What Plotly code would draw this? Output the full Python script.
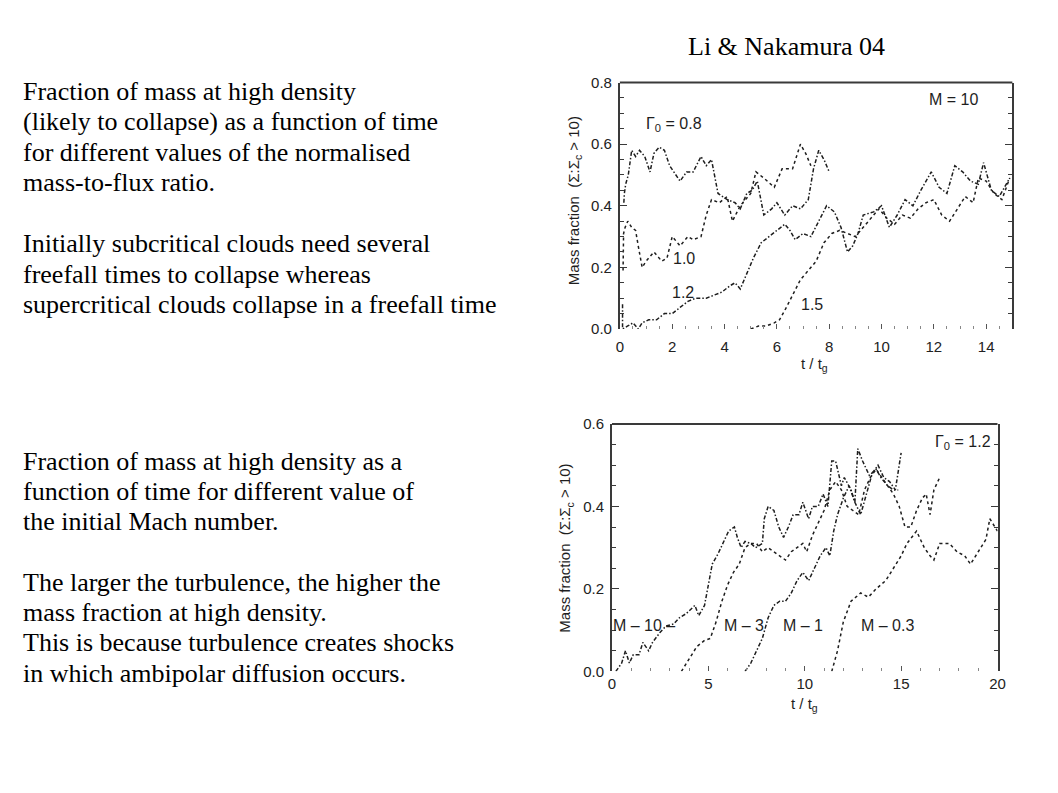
import plotly.graph_objects as go

# page offset of the plot div (browser body margin) and figure size that fits the window
OFF = 8
W, H = 1058 - 2 * OFF, 793 - 2 * OFF

# ---------------- data: top panel (M = 10, different mass-to-flux ratios) ----------------
t_08 = [0.15, 0.17, 0.22, 0.32, 0.45, 0.6, 0.75, 0.95, 1.15, 1.3, 1.5, 1.7, 1.9, 2.05, 2.3, 2.55, 2.8, 3.1, 3.3, 3.5,
        3.75, 4.1, 4.4, 4.6, 4.85, 5.05, 5.25, 5.5, 5.8, 6.0, 6.3, 6.6, 6.9, 7.2, 7.4, 7.6, 7.8, 8.0]
m_08 = [0.41, 0.44, 0.47, 0.50, 0.58, 0.56, 0.58, 0.56, 0.51, 0.57, 0.59, 0.58, 0.53, 0.51, 0.48, 0.51, 0.51, 0.56, 0.53, 0.55,
        0.44, 0.42, 0.41, 0.39, 0.44, 0.45, 0.48, 0.37, 0.39, 0.41, 0.37, 0.40, 0.39, 0.42, 0.52, 0.58, 0.55, 0.51]

t_10 = [0.12, 0.14, 0.2, 0.3, 0.45, 0.6, 0.7, 0.85, 1.0, 1.3, 1.6, 1.8, 2.0, 2.3, 2.6, 2.8, 3.1, 3.3, 3.5, 3.8,
        4.1, 4.3, 4.6, 5.0, 5.2, 5.5, 5.9, 6.2, 6.6, 6.9, 7.1, 7.3]
m_10 = [0.19, 0.31, 0.33, 0.35, 0.33, 0.32, 0.27, 0.20, 0.22, 0.25, 0.22, 0.23, 0.30, 0.27, 0.30, 0.29, 0.30, 0.37, 0.42, 0.41,
        0.43, 0.35, 0.40, 0.44, 0.51, 0.49, 0.46, 0.52, 0.52, 0.60, 0.57, 0.53]

t_12 = [0.1, 0.1, 0.3, 0.5, 0.7, 0.85, 1.1, 1.4, 1.7, 2.0, 2.3, 2.6, 2.9, 3.3, 3.6, 3.9, 4.2, 4.4, 4.6, 4.8,
        5.1, 5.4, 5.7, 6.0, 6.3, 6.5, 6.7, 7.0, 7.3, 7.6, 7.9, 8.2, 8.45, 8.7, 8.9, 9.1, 9.3, 9.7, 10.0, 10.3,
        10.6, 10.9, 11.2, 11.5, 11.9, 12.2, 12.5, 12.8, 13.1, 13.4, 13.7, 13.9, 14.2, 14.5, 14.9]
m_12 = [0.08, 0.0, 0.01, 0.02, 0.0, 0.02, 0.03, 0.03, 0.05, 0.05, 0.07, 0.09, 0.10, 0.10, 0.11, 0.12, 0.14, 0.15, 0.13, 0.17,
        0.23, 0.28, 0.30, 0.32, 0.34, 0.32, 0.29, 0.31, 0.30, 0.35, 0.40, 0.38, 0.33, 0.25, 0.27, 0.31, 0.37, 0.38, 0.40, 0.33,
        0.37, 0.42, 0.40, 0.45, 0.51, 0.46, 0.44, 0.53, 0.51, 0.48, 0.47, 0.54, 0.45, 0.43, 0.49]

t_15 = [5.0, 5.3, 5.6, 5.9, 6.1, 6.3, 6.6, 6.9, 7.2, 7.5, 7.8, 8.1, 8.4, 8.7, 9.0, 9.3, 9.6, 9.9, 10.2, 10.5,
        10.8, 11.1, 11.4, 11.7, 12.0, 12.3, 12.6, 12.9, 13.2, 13.5, 13.7, 14.0, 14.3, 14.6, 14.9]
m_15 = [0.0, 0.01, 0.01, 0.02, 0.03, 0.06, 0.11, 0.16, 0.19, 0.22, 0.28, 0.31, 0.32, 0.31, 0.30, 0.33, 0.36, 0.39, 0.36, 0.34,
        0.37, 0.36, 0.39, 0.41, 0.42, 0.37, 0.35, 0.39, 0.43, 0.41, 0.49, 0.48, 0.44, 0.42, 0.49]

# ---------------- data: bottom panel (Gamma0 = 1.2, different Mach numbers) ----------------
t_m10 = [0.2, 0.5, 0.7, 0.9, 1.1, 1.4, 1.6, 1.9, 2.1, 2.5, 2.8, 3.2, 3.5, 3.85, 4.3, 4.5, 4.8, 5.0, 5.2, 5.5,
         5.75, 6.05, 6.35, 6.5, 6.7, 6.9, 7.2, 7.45, 7.8, 7.9, 8.1, 8.4, 8.65, 8.9, 9.15, 9.4, 9.7, 9.9, 10.2, 10.4,
         10.7, 10.95, 11.2, 11.4, 11.6, 11.9, 12.05, 12.4, 12.6, 12.75, 13.0, 13.35, 13.7, 13.95, 14.3, 14.6, 14.85]
m_m10 = [0.0, 0.02, 0.05, 0.02, 0.04, 0.04, 0.07, 0.05, 0.07, 0.095, 0.11, 0.115, 0.13, 0.14, 0.16, 0.135, 0.16, 0.21, 0.26, 0.285,
         0.31, 0.34, 0.35, 0.325, 0.30, 0.315, 0.31, 0.30, 0.31, 0.37, 0.40, 0.39, 0.35, 0.325, 0.35, 0.38, 0.38, 0.41, 0.37, 0.40,
         0.40, 0.43, 0.40, 0.51, 0.51, 0.45, 0.47, 0.44, 0.41, 0.54, 0.51, 0.475, 0.49, 0.47, 0.45, 0.44, 0.44]

t_m3 = [3.6, 4.0, 4.4, 4.8, 5.1, 5.4, 5.7, 6.0, 6.3, 6.6, 6.9, 7.2, 7.5, 7.8, 8.1, 8.4, 8.7, 9.0, 9.3, 9.6,
        9.9, 10.1, 10.4, 10.7, 11.0, 11.3, 11.6, 11.9, 12.2, 12.5, 12.8, 13.1, 13.4, 13.7, 14.0, 14.3, 14.6, 14.9, 15.2, 15.5,
        15.8, 16.1, 16.3, 16.5, 16.7, 17.0]
m_m3 = [0.0, 0.03, 0.06, 0.075, 0.08, 0.12, 0.17, 0.21, 0.24, 0.26, 0.30, 0.31, 0.31, 0.29, 0.30, 0.29, 0.28, 0.27, 0.29, 0.30,
        0.31, 0.29, 0.33, 0.36, 0.39, 0.44, 0.46, 0.44, 0.40, 0.39, 0.38, 0.44, 0.47, 0.49, 0.47, 0.45, 0.43, 0.40, 0.35, 0.35,
        0.39, 0.42, 0.43, 0.38, 0.44, 0.47]

t_m1 = [6.9, 7.2, 7.5, 7.8, 8.1, 8.4, 8.7, 9.0, 9.3, 9.6, 9.9, 10.2, 10.5, 10.8, 11.1, 11.3, 11.5, 11.7, 12.0, 12.3,
        12.6, 12.9, 13.2, 13.5, 13.8, 14.1, 14.4, 14.7, 15.0]
m_m1 = [0.0, 0.02, 0.05, 0.08, 0.13, 0.16, 0.17, 0.17, 0.19, 0.22, 0.24, 0.22, 0.25, 0.28, 0.30, 0.28, 0.34, 0.38, 0.42, 0.45,
        0.41, 0.38, 0.43, 0.48, 0.50, 0.47, 0.46, 0.44, 0.53]

t_m03 = [11.4, 11.7, 12.0, 12.4, 12.9, 13.3, 13.7, 14.2, 14.6, 15.0, 15.3, 15.8, 16.2, 16.5, 16.7, 17.0, 17.5, 17.9, 18.3, 18.6,
         19.0, 19.4, 19.6, 20.0]
m_m03 = [0.0, 0.05, 0.12, 0.17, 0.19, 0.18, 0.20, 0.22, 0.25, 0.28, 0.31, 0.34, 0.30, 0.28, 0.27, 0.31, 0.31, 0.29, 0.28, 0.26,
         0.29, 0.32, 0.37, 0.34]

# ---------------- text ----------------
title_text = "Li & Nakamura 04"
block1 = ["Fraction of mass at high density",
          "(likely to collapse) as a function of time",
          "for different values of the normalised",
          "mass-to-flux ratio.",
          "",
          "Initially subcritical clouds need several",
          "freefall times to collapse whereas",
          "supercritical clouds collapse in a freefall time"]
block2 = ["Fraction of mass at high density as a",
          "function of time for different value of",
          "the initial Mach number.",
          "",
          "The larger the turbulence, the higher the",
          "mass fraction at high density.",
          "This is because turbulence creates shocks",
          "in which ambipolar diffusion occurs."]

SERIF = "Liberation Serif, Times New Roman, serif"
SANS = "Liberation Sans, Arial, sans-serif"
INK = "#1e1e1e"
AX = "#3a3a3a"
TXT = 26

fig = go.Figure()

DOT = "dot"
DASHDOT = "4px,2px,1.5px,2px"

def add_line(x, y, xa, ya, dash):
    fig.add_trace(go.Scatter(x=x, y=y, xaxis=xa, yaxis=ya, mode="lines",
                             line=dict(color=INK, width=1.5, dash=dash),
                             showlegend=False, hoverinfo="skip"))

add_line(t_08, m_08, "x", "y", DASHDOT)
add_line(t_10, m_10, "x", "y", DOT)
add_line(t_12, m_12, "x", "y", DASHDOT)
add_line(t_15, m_15, "x", "y", DOT)

add_line(t_m10, m_m10, "x2", "y2", DASHDOT)
add_line(t_m3, m_m3, "x2", "y2", DOT)
add_line(t_m1, m_m1, "x2", "y2", DASHDOT)
add_line(t_m03, m_m03, "x2", "y2", DOT)

# map page pixel positions (as seen in the screenshot) to paper coordinates
def px_x(p):
    return (p - OFF) / W

def px_y(p):
    return 1 - (p - OFF) / H

top_dom_x = [px_x(623), px_x(1020)]
top_dom_y = [px_y(327), px_y(75)]
bot_dom_x = [px_x(615), px_x(1005)]
bot_dom_y = [px_y(677), px_y(424)]

tickfont = dict(family=SANS, size=15, color="#222222")

def xaxis_cfg(dom, rng, dtick, minor, anchor, standoff):
    return dict(domain=dom, range=rng, anchor=anchor, dtick=dtick, tick0=0,
                showline=False, zeroline=False, showgrid=False,
                ticks="inside", ticklen=5, tickcolor="#555555", tickwidth=1.2,
                minor=dict(dtick=minor, ticks="inside", ticklen=3, tickcolor="#888888"),
                ticklabelstandoff=standoff,
                tickfont=tickfont, fixedrange=True)

def yaxis_cfg(dom, rng, dtick, minor, anchor):
    return dict(domain=dom, range=rng, anchor=anchor, dtick=dtick, tick0=0,
                showline=True, linecolor=AX, linewidth=2, mirror="allticks",
                zeroline=False, showgrid=False, tickformat=".1f",
                ticks="inside", ticklen=7, tickcolor=AX, tickwidth=1.2,
                minor=dict(dtick=minor, ticks="inside", ticklen=4, tickcolor=AX),
                ticklabelstandoff=3,
                tickfont=tickfont, fixedrange=True)

ann = []
ann.append(dict(text=title_text, x=px_x(792), y=px_y(38), xref="paper", yref="paper",
                showarrow=False, xanchor="center", yanchor="middle",
                font=dict(family=SERIF, size=TXT, color="black")))
for i, line in enumerate(block1):
    if line:
        ann.append(dict(text=line, x=px_x(17), y=px_y(84 + 31.2 * i), xref="paper", yref="paper",
                        showarrow=False, xanchor="left", yanchor="middle",
                        font=dict(family=SERIF, size=TXT, color="black")))
for i, line in enumerate(block2):
    if line:
        ann.append(dict(text=line, x=px_x(17), y=px_y(462 + 31 * i), xref="paper", yref="paper",
                        showarrow=False, xanchor="left", yanchor="middle",
                        font=dict(family=SERIF, size=TXT, color="black")))

lab = dict(family=SANS, size=16, color=INK)
ann.append(dict(text="Mass fraction  (Σ:Σ<sub>c</sub> > 10)", x=px_x(577), y=px_y(196),
                xref="paper", yref="paper", textangle=-90, showarrow=False,
                xanchor="center", yanchor="middle", font=dict(family=SANS, size=15, color=INK)))
ann.append(dict(text="t / t<sub>g</sub>", x=px_x(820), y=px_y(363), xref="paper", yref="paper",
                showarrow=False, xanchor="center", yanchor="middle", font=dict(family=SANS, size=15, color=INK)))
ann.append(dict(text="Mass fraction  (Σ:Σ<sub>c</sub> > 10)", x=px_x(568), y=px_y(551),
                xref="paper", yref="paper", textangle=-90, showarrow=False,
                xanchor="center", yanchor="middle", font=dict(family=SANS, size=15, color=INK)))
ann.append(dict(text="t / t<sub>g</sub>", x=px_x(810), y=px_y(711), xref="paper", yref="paper",
                showarrow=False, xanchor="center", yanchor="middle", font=dict(family=SANS, size=15, color=INK)))

for txt, x, y in [("M = 10", 12.75, 0.745), ("Γ<sub>0</sub> = 0.8", 2.05, 0.665),
                  ("1.0", 2.45, 0.228), ("1.2", 2.4, 0.12), ("1.5", 7.35, 0.078)]:
    ann.append(dict(text=txt, x=x, y=y, xref="x", yref="y", showarrow=False,
                    xanchor="center", yanchor="middle", font=lab))
for txt, x, y in [("Γ<sub>0</sub> = 1.2", 18.2, 0.555), ("M – 10 –", 1.66, 0.11), ("M – 3", 6.85, 0.11),
                  ("M – 1", 9.9, 0.11), ("M – 0.3", 14.3, 0.11)]:
    ann.append(dict(text=txt, x=x, y=y, xref="x2", yref="y2", showarrow=False,
                    xanchor="center", yanchor="middle", font=lab))

shapes = [
    dict(type="line", xref="x domain", yref="y domain", x0=0, x1=1, y0=1, y1=1,
         line=dict(color=AX, width=2)),
    dict(type="line", xref="x2 domain", yref="y2 domain", x0=0, x1=1, y0=1, y1=1,
         line=dict(color=AX, width=2)),
]

fig.update_layout(
    width=W, height=H, autosize=False,
    margin=dict(l=0, r=0, t=0, b=0),
    paper_bgcolor="white", plot_bgcolor="white",
    showlegend=False,
    xaxis=xaxis_cfg(top_dom_x, [0, 15], 2, 0.5, "y", 7),
    yaxis=yaxis_cfg(top_dom_y, [0, 0.8], 0.2, 0.05, "x"),
    xaxis2=xaxis_cfg(bot_dom_x, [0, 20], 5, 1, "y2", 2),
    yaxis2=yaxis_cfg(bot_dom_y, [0, 0.6], 0.2, 0.05, "x2"),
    annotations=ann,
    shapes=shapes,
)

fig.write_html("out.html", config={"displayModeBar": False})
